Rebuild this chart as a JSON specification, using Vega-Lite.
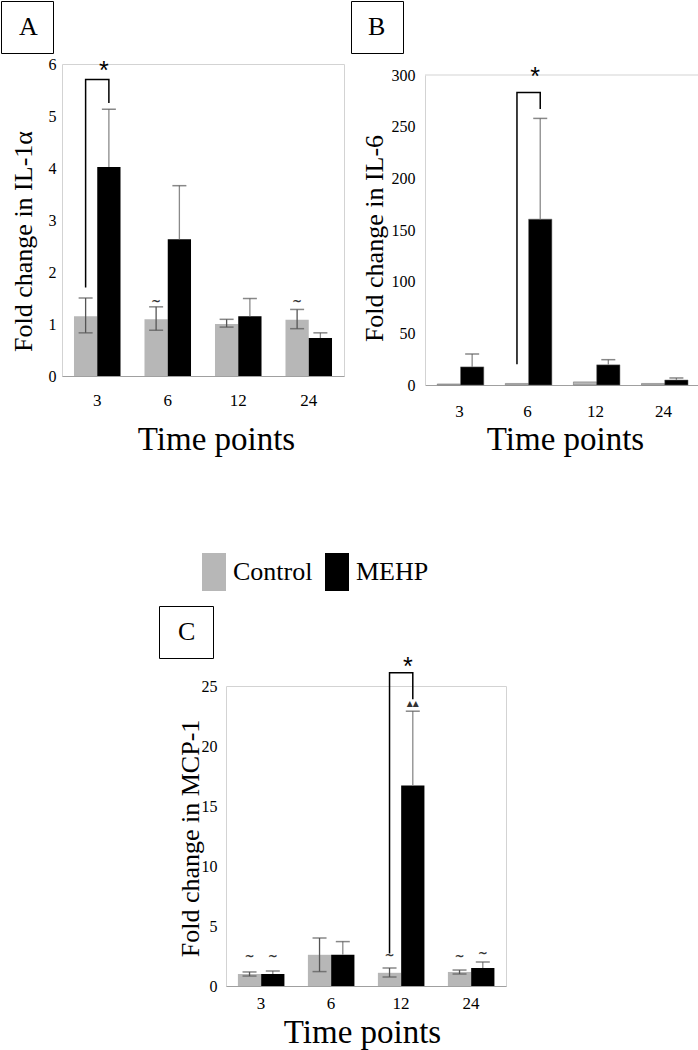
{
  "$schema": "https://vega.github.io/schema/vega-lite/v6.json",
  "background": "white",
  "padding": 0,
  "config": {
    "view": {"stroke": "#d3d3d3", "strokeWidth": 1},
    "axis": {"labelFont": "Liberation Serif", "titleFont": "Liberation Serif", "labelColor": "#000", "titleColor": "#000", "ticks": false, "grid": false, "titleFontWeight": "normal"},
    "axisX": {"labelAngle": 0, "labelFontSize": 17, "domainColor": "#a0a0a0", "domainWidth": 1.2, "titleFontSize": 33, "titleBaseline": "alphabetic"},
    "axisY": {"domain": false, "labelFontSize": 16, "titleFontSize": 26},
    "legend": {"labelFont": "Liberation Serif", "labelColor": "#000"}
  },
  "spacing": 95,
  "resolve": {"scale": {"shape": "independent", "color": "independent"}, "legend": {"shape": "independent", "color": "independent"}},
  "datasets": {
    "A": [
      {"time": "3", "group": "Control", "mean": 1.15, "lo": 0.83, "hi": 1.5},
      {"time": "3", "group": "MEHP", "mean": 4.02, "lo": 4.02, "hi": 5.13},
      {"time": "6", "group": "Control", "mean": 1.09, "lo": 0.88, "hi": 1.33},
      {"time": "6", "group": "MEHP", "mean": 2.63, "lo": 2.63, "hi": 3.66},
      {"time": "12", "group": "Control", "mean": 1.0, "lo": 0.94, "hi": 1.09},
      {"time": "12", "group": "MEHP", "mean": 1.15, "lo": 1.15, "hi": 1.49},
      {"time": "24", "group": "Control", "mean": 1.08, "lo": 0.91, "hi": 1.28},
      {"time": "24", "group": "MEHP", "mean": 0.73, "lo": 0.73, "hi": 0.83}
    ],
    "B": [
      {"time": "3", "group": "Control", "mean": 1.0, "lo": 0.6, "hi": 1.4},
      {"time": "3", "group": "MEHP", "mean": 17.5, "lo": 17.5, "hi": 30},
      {"time": "6", "group": "Control", "mean": 1.5, "lo": 1.0, "hi": 2.0},
      {"time": "6", "group": "MEHP", "mean": 160.5, "lo": 160.5, "hi": 258},
      {"time": "12", "group": "Control", "mean": 3.0, "lo": 2.0, "hi": 4.0},
      {"time": "12", "group": "MEHP", "mean": 19.5, "lo": 19.5, "hi": 24.5},
      {"time": "24", "group": "Control", "mean": 1.5, "lo": 1.0, "hi": 2.0},
      {"time": "24", "group": "MEHP", "mean": 4.8, "lo": 4.8, "hi": 6.8}
    ],
    "C": [
      {"time": "3", "group": "Control", "mean": 1.0, "lo": 0.83, "hi": 1.17},
      {"time": "3", "group": "MEHP", "mean": 1.0, "lo": 1.0, "hi": 1.25},
      {"time": "6", "group": "Control", "mean": 2.6, "lo": 1.2, "hi": 4.0},
      {"time": "6", "group": "MEHP", "mean": 2.6, "lo": 2.6, "hi": 3.7},
      {"time": "12", "group": "Control", "mean": 1.1, "lo": 0.75, "hi": 1.5},
      {"time": "12", "group": "MEHP", "mean": 16.7, "lo": 16.7, "hi": 22.9},
      {"time": "24", "group": "Control", "mean": 1.17, "lo": 1.0, "hi": 1.33},
      {"time": "24", "group": "MEHP", "mean": 1.5, "lo": 1.5, "hi": 2.0}
    ],
    "A_br": [
      {"order": 1, "time": "3", "group": "Control", "y": 1.7},
      {"order": 2, "time": "3", "group": "Control", "y": 5.7},
      {"order": 3, "time": "3", "group": "MEHP", "y": 5.7},
      {"order": 4, "time": "3", "group": "MEHP", "y": 5.25}
    ],
    "B_br": [
      {"order": 1, "time": "6", "group": "Control", "y": 20},
      {"order": 2, "time": "6", "group": "Control", "y": 283},
      {"order": 3, "time": "6", "group": "MEHP", "y": 283},
      {"order": 4, "time": "6", "group": "MEHP", "y": 267}
    ],
    "C_br": [
      {"order": 1, "time": "12", "group": "Control", "y": 2.7},
      {"order": 2, "time": "12", "group": "Control", "y": 26.1},
      {"order": 3, "time": "12", "group": "MEHP", "y": 26.1},
      {"order": 4, "time": "12", "group": "MEHP", "y": 23.9}
    ],
    "A_ann": [
      {"kind": "star", "time": "3", "group": "MEHP", "y": 5.87, "label": "*"},
      {"kind": "mark", "time": "6", "group": "Control", "y": 1.45, "label": "~"},
      {"kind": "mark", "time": "24", "group": "Control", "y": 1.45, "label": "~"}
    ],
    "B_ann": [
      {"kind": "star", "time": "6", "group": "MEHP", "y": 298, "label": "*"}
    ],
    "C_ann": [
      {"kind": "star", "time": "12", "group": "MEHP", "y": 26.6, "label": "*"},
      {"kind": "mark", "time": "3", "group": "Control", "y": 2.5, "label": "~"},
      {"kind": "mark", "time": "3", "group": "MEHP", "y": 2.5, "label": "~"},
      {"kind": "mark", "time": "12", "group": "Control", "y": 2.6, "label": "~"},
      {"kind": "mark", "time": "24", "group": "Control", "y": 2.5, "label": "~"},
      {"kind": "mark", "time": "24", "group": "MEHP", "y": 2.75, "label": "~"},
      {"kind": "mark", "time": "12", "group": "MEHP", "y": 23.6, "label": "▴▴"}
    ]
  },
  "vconcat": [
    {
      "spacing": 5,
      "resolve": {"scale": {"shape": "independent", "color": "independent"}, "legend": {"shape": "independent", "color": "independent"}},
      "hconcat": [
        {
          "width": 282, "height": 312,
          "data": {"name": "A"},
          "layer": [
            {
              "mark": {"type": "bar"},
              "encoding": {
                "x": {"field": "time", "type": "ordinal", "sort": ["3", "6", "12", "24"], "scale": {"paddingInner": 0.34, "paddingOuter": 0.17}, "title": "Time points", "axis": {"labelPadding": 16, "titleY": 73, "titleX": 154}},
                "xOffset": {"field": "group", "type": "nominal", "sort": ["Control", "MEHP"], "scale": {"paddingInner": 0, "paddingOuter": 0}},
                "y": {"field": "mean", "type": "quantitative", "scale": {"domain": [0, 6], "nice": false}, "title": "Fold change in IL-1α", "axis": {"values": [0, 1, 2, 3, 4, 5, 6], "labelPadding": 6, "titleX": -26, "titleY": 177}},
                "color": {"field": "group", "type": "nominal", "scale": {"domain": ["Control", "MEHP"], "range": ["#b7b7b7", "#000000"]}, "legend": null}
              }
            },
            {
              "transform": [{"filter": "datum.group === 'Control'"}],
              "mark": {"type": "rule", "color": "#555555", "strokeWidth": 1.3},
              "encoding": {
                "x": {"field": "time", "type": "ordinal", "sort": ["3", "6", "12", "24"]},
                "xOffset": {"field": "group", "type": "nominal", "sort": ["Control", "MEHP"]},
                "y": {"field": "lo", "type": "quantitative"},
                "y2": {"field": "hi"}
              }
            },
            {
              "transform": [{"filter": "datum.group === 'MEHP'"}],
              "mark": {"type": "rule", "color": "#8a8a8a", "strokeWidth": 1.3},
              "encoding": {
                "x": {"field": "time", "type": "ordinal", "sort": ["3", "6", "12", "24"]},
                "xOffset": {"field": "group", "type": "nominal", "sort": ["Control", "MEHP"]},
                "y": {"field": "lo", "type": "quantitative"},
                "y2": {"field": "hi"}
              }
            },
            {
              "mark": {"type": "tick", "color": "#555555", "thickness": 1.5, "size": 14},
              "encoding": {
                "x": {"field": "time", "type": "ordinal", "sort": ["3", "6", "12", "24"]},
                "xOffset": {"field": "group", "type": "nominal", "sort": ["Control", "MEHP"]},
                "y": {"field": "hi", "type": "quantitative"}
              }
            },
            {
              "transform": [{"filter": "datum.group === 'Control'"}],
              "mark": {"type": "tick", "color": "#555555", "thickness": 1.5, "size": 14},
              "encoding": {
                "x": {"field": "time", "type": "ordinal", "sort": ["3", "6", "12", "24"]},
                "xOffset": {"field": "group", "type": "nominal", "sort": ["Control", "MEHP"]},
                "y": {"field": "lo", "type": "quantitative"}
              }
            },
            {
              "data": {"name": "A_br"},
              "mark": {"type": "line", "color": "#000000", "strokeWidth": 1.5},
              "encoding": {
                "x": {"field": "time", "type": "ordinal", "sort": ["3", "6", "12", "24"]},
                "xOffset": {"field": "group", "type": "nominal", "sort": ["Control", "MEHP"]},
                "y": {"field": "y", "type": "quantitative"},
                "order": {"field": "order"}
              }
            },
            {
              "data": {"name": "A_ann"},
              "transform": [{"filter": "datum.kind === 'star'"}],
              "mark": {"type": "text", "font": "Liberation Sans", "fontSize": 25, "color": "#000", "dx": -5, "baseline": "middle"},
              "encoding": {
                "x": {"field": "time", "type": "ordinal", "sort": ["3", "6", "12", "24"]},
                "xOffset": {"field": "group", "type": "nominal", "sort": ["Control", "MEHP"]},
                "y": {"field": "y", "type": "quantitative"},
                "text": {"field": "label"}
              }
            },
            {
              "data": {"name": "A_ann"},
              "transform": [{"filter": "datum.kind === 'mark'"}],
              "mark": {"type": "text", "font": "DejaVu Sans", "fontSize": 12, "fontWeight": "bold", "color": "#333", "baseline": "middle"},
              "encoding": {
                "x": {"field": "time", "type": "ordinal", "sort": ["3", "6", "12", "24"]},
                "xOffset": {"field": "group", "type": "nominal", "sort": ["Control", "MEHP"]},
                "y": {"field": "y", "type": "quantitative"},
                "text": {"field": "label"}
              }
            },
            {
              "data": {"values": []},
              "mark": {"type": "point"},
              "encoding": {
                "shape": {"datum": "A", "legend": {"orient": "none", "legendX": -61, "legendY": -63, "title": null, "padding": 13, "strokeColor": "#000", "symbolSize": 4, "symbolOpacity": 0, "symbolStrokeWidth": 0, "symbolOffset": 12, "labelOffset": -33, "labelFont": "Liberation Serif", "labelFontSize": 26, "labelColor": "#000"}}
              }
            }
          ]
        },
        {
          "width": 273, "height": 321,
          "view": {"stroke": null},
          "data": {"name": "B"},
          "resolve": {"axis": {"y": "independent"}},
          "layer": [
            {
              "mark": {"type": "bar", "stroke": "#666", "strokeWidth": 0.5},
              "encoding": {
                "x": {"field": "time", "type": "ordinal", "sort": ["3", "6", "12", "24"], "scale": {"paddingInner": 0.35, "paddingOuter": 0.18}, "title": "Time points", "axis": {"labelPadding": 18, "titleY": 64, "titleX": 140}},
                "xOffset": {"field": "group", "type": "nominal", "sort": ["Control", "MEHP"], "scale": {"paddingInner": 0, "paddingOuter": 0}},
                "y": {"field": "mean", "type": "quantitative", "scale": {"domain": [0, 300], "range": [321, 11], "nice": false}, "title": "Fold change in IL-6", "axis": {"values": [0, 50, 100, 150, 200, 250, 300], "labelPadding": 10, "titleX": -38, "titleY": 174, "domain": true, "domainColor": "#d3d3d3", "domainWidth": 1}},
                "color": {"field": "group", "type": "nominal", "scale": {"domain": ["Control", "MEHP"], "range": ["#b7b7b7", "#000000"]}, "legend": null}
              }
            },
            {
              "data": {"values": [{}]},
              "mark": {"type": "rule", "color": "#d3d3d3", "strokeWidth": 1},
              "encoding": {
                "y": {"datum": 300, "type": "quantitative", "axis": {"orient": "right", "labels": false, "ticks": false, "domain": true, "domainColor": "#d3d3d3", "domainWidth": 1, "title": null, "grid": false}}
              }
            },
            {
              "transform": [{"filter": "datum.group === 'MEHP'"}],
              "mark": {"type": "rule", "color": "#8a8a8a", "strokeWidth": 1.3},
              "encoding": {
                "x": {"field": "time", "type": "ordinal", "sort": ["3", "6", "12", "24"]},
                "xOffset": {"field": "group", "type": "nominal", "sort": ["Control", "MEHP"]},
                "y": {"field": "lo", "type": "quantitative", "axis": null},
                "y2": {"field": "hi"}
              }
            },
            {
              "transform": [{"filter": "datum.group === 'MEHP'"}],
              "mark": {"type": "tick", "color": "#555555", "thickness": 1.5, "size": 14},
              "encoding": {
                "x": {"field": "time", "type": "ordinal", "sort": ["3", "6", "12", "24"]},
                "xOffset": {"field": "group", "type": "nominal", "sort": ["Control", "MEHP"]},
                "y": {"field": "hi", "type": "quantitative", "axis": null}
              }
            },
            {
              "data": {"name": "B_br"},
              "mark": {"type": "line", "color": "#000000", "strokeWidth": 1.5},
              "encoding": {
                "x": {"field": "time", "type": "ordinal", "sort": ["3", "6", "12", "24"]},
                "xOffset": {"field": "group", "type": "nominal", "sort": ["Control", "MEHP"]},
                "y": {"field": "y", "type": "quantitative", "axis": null},
                "order": {"field": "order"}
              }
            },
            {
              "data": {"name": "B_ann"},
              "mark": {"type": "text", "font": "Liberation Sans", "fontSize": 25, "color": "#000", "dx": -5, "baseline": "middle"},
              "encoding": {
                "x": {"field": "time", "type": "ordinal", "sort": ["3", "6", "12", "24"]},
                "xOffset": {"field": "group", "type": "nominal", "sort": ["Control", "MEHP"]},
                "y": {"field": "y", "type": "quantitative", "axis": null},
                "text": {"field": "label"}
              }
            },
            {
              "data": {"values": []},
              "mark": {"type": "point"},
              "encoding": {
                "shape": {"datum": "B", "legend": {"orient": "none", "legendX": -74, "legendY": -63, "title": null, "padding": 13, "strokeColor": "#000", "symbolSize": 4, "symbolOpacity": 0, "symbolStrokeWidth": 0, "symbolOffset": 12, "labelOffset": -34, "labelFont": "Liberation Serif", "labelFontSize": 26, "labelColor": "#000"}}
              }
            }
          ]
        }
      ]
    },
    {
      "spacing": 5,
      "resolve": {"scale": {"shape": "independent", "color": "independent"}, "legend": {"shape": "independent", "color": "independent"}},
      "hconcat": [
        {
          "width": 91, "height": 10,
          "data": {"values": [{}]},
          "mark": {"type": "text"},
          "encoding": {"text": {"value": ""}},
          "view": {"stroke": null}
        },
        {
          "width": 280, "height": 300,
          "data": {"name": "C"},
          "layer": [
            {
              "mark": {"type": "bar"},
              "encoding": {
                "x": {"field": "time", "type": "ordinal", "sort": ["3", "6", "12", "24"], "scale": {"paddingInner": 0.34, "paddingOuter": 0.17}, "title": "Time points", "axis": {"labelPadding": 9, "titleY": 56, "titleX": 136}},
                "xOffset": {"field": "group", "type": "nominal", "sort": ["Control", "MEHP"], "scale": {"paddingInner": 0, "paddingOuter": 0}},
                "y": {"field": "mean", "type": "quantitative", "scale": {"domain": [0, 25], "nice": false}, "title": "Fold change in MCP-1", "axis": {"values": [0, 5, 10, 15, 20, 25], "labelPadding": 9, "titleX": -23, "titleY": 152}},
                "color": {"field": "group", "type": "nominal", "scale": {"domain": ["Control", "MEHP"], "range": ["#b7b7b7", "#000000"]}, "legend": {"orient": "none", "legendX": -31, "legendY": -133, "direction": "horizontal", "title": null, "symbolType": "M-0.6316,-1H0.6316V1H-0.6316Z", "symbolSize": 1444, "symbolStrokeWidth": 0, "labelFontSize": 26, "labelFont": "Liberation Serif", "labelOffset": 0, "columnPadding": 5, "padding": 0, "labelColor": "#000"}}
              }
            },
            {
              "transform": [{"filter": "datum.group === 'Control'"}],
              "mark": {"type": "rule", "color": "#555555", "strokeWidth": 1.3},
              "encoding": {
                "x": {"field": "time", "type": "ordinal", "sort": ["3", "6", "12", "24"]},
                "xOffset": {"field": "group", "type": "nominal", "sort": ["Control", "MEHP"]},
                "y": {"field": "lo", "type": "quantitative"},
                "y2": {"field": "hi"}
              }
            },
            {
              "transform": [{"filter": "datum.group === 'MEHP'"}],
              "mark": {"type": "rule", "color": "#8a8a8a", "strokeWidth": 1.3},
              "encoding": {
                "x": {"field": "time", "type": "ordinal", "sort": ["3", "6", "12", "24"]},
                "xOffset": {"field": "group", "type": "nominal", "sort": ["Control", "MEHP"]},
                "y": {"field": "lo", "type": "quantitative"},
                "y2": {"field": "hi"}
              }
            },
            {
              "mark": {"type": "tick", "color": "#555555", "thickness": 1.5, "size": 14},
              "encoding": {
                "x": {"field": "time", "type": "ordinal", "sort": ["3", "6", "12", "24"]},
                "xOffset": {"field": "group", "type": "nominal", "sort": ["Control", "MEHP"]},
                "y": {"field": "hi", "type": "quantitative"}
              }
            },
            {
              "transform": [{"filter": "datum.group === 'Control'"}],
              "mark": {"type": "tick", "color": "#555555", "thickness": 1.5, "size": 14},
              "encoding": {
                "x": {"field": "time", "type": "ordinal", "sort": ["3", "6", "12", "24"]},
                "xOffset": {"field": "group", "type": "nominal", "sort": ["Control", "MEHP"]},
                "y": {"field": "lo", "type": "quantitative"}
              }
            },
            {
              "data": {"name": "C_br"},
              "mark": {"type": "line", "color": "#000000", "strokeWidth": 1.5},
              "encoding": {
                "x": {"field": "time", "type": "ordinal", "sort": ["3", "6", "12", "24"]},
                "xOffset": {"field": "group", "type": "nominal", "sort": ["Control", "MEHP"]},
                "y": {"field": "y", "type": "quantitative"},
                "order": {"field": "order"}
              }
            },
            {
              "data": {"name": "C_ann"},
              "transform": [{"filter": "datum.kind === 'star'"}],
              "mark": {"type": "text", "font": "Liberation Sans", "fontSize": 25, "color": "#000", "dx": -5, "baseline": "middle"},
              "encoding": {
                "x": {"field": "time", "type": "ordinal", "sort": ["3", "6", "12", "24"]},
                "xOffset": {"field": "group", "type": "nominal", "sort": ["Control", "MEHP"]},
                "y": {"field": "y", "type": "quantitative"},
                "text": {"field": "label"}
              }
            },
            {
              "data": {"name": "C_ann"},
              "transform": [{"filter": "datum.kind === 'mark'"}],
              "mark": {"type": "text", "font": "DejaVu Sans", "fontSize": 12, "fontWeight": "bold", "color": "#333", "baseline": "middle"},
              "encoding": {
                "x": {"field": "time", "type": "ordinal", "sort": ["3", "6", "12", "24"]},
                "xOffset": {"field": "group", "type": "nominal", "sort": ["Control", "MEHP"]},
                "y": {"field": "y", "type": "quantitative"},
                "text": {"field": "label"}
              }
            },
            {
              "data": {"values": []},
              "mark": {"type": "point"},
              "encoding": {
                "shape": {"datum": "C", "legend": {"orient": "none", "legendX": -67, "legendY": -80, "title": null, "padding": 13, "strokeColor": "#000", "symbolSize": 4, "symbolOpacity": 0, "symbolStrokeWidth": 0, "symbolOffset": 14, "labelOffset": -34, "labelFont": "Liberation Serif", "labelFontSize": 26, "labelColor": "#000"}}
              }
            }
          ]
        }
      ]
    }
  ]
}
